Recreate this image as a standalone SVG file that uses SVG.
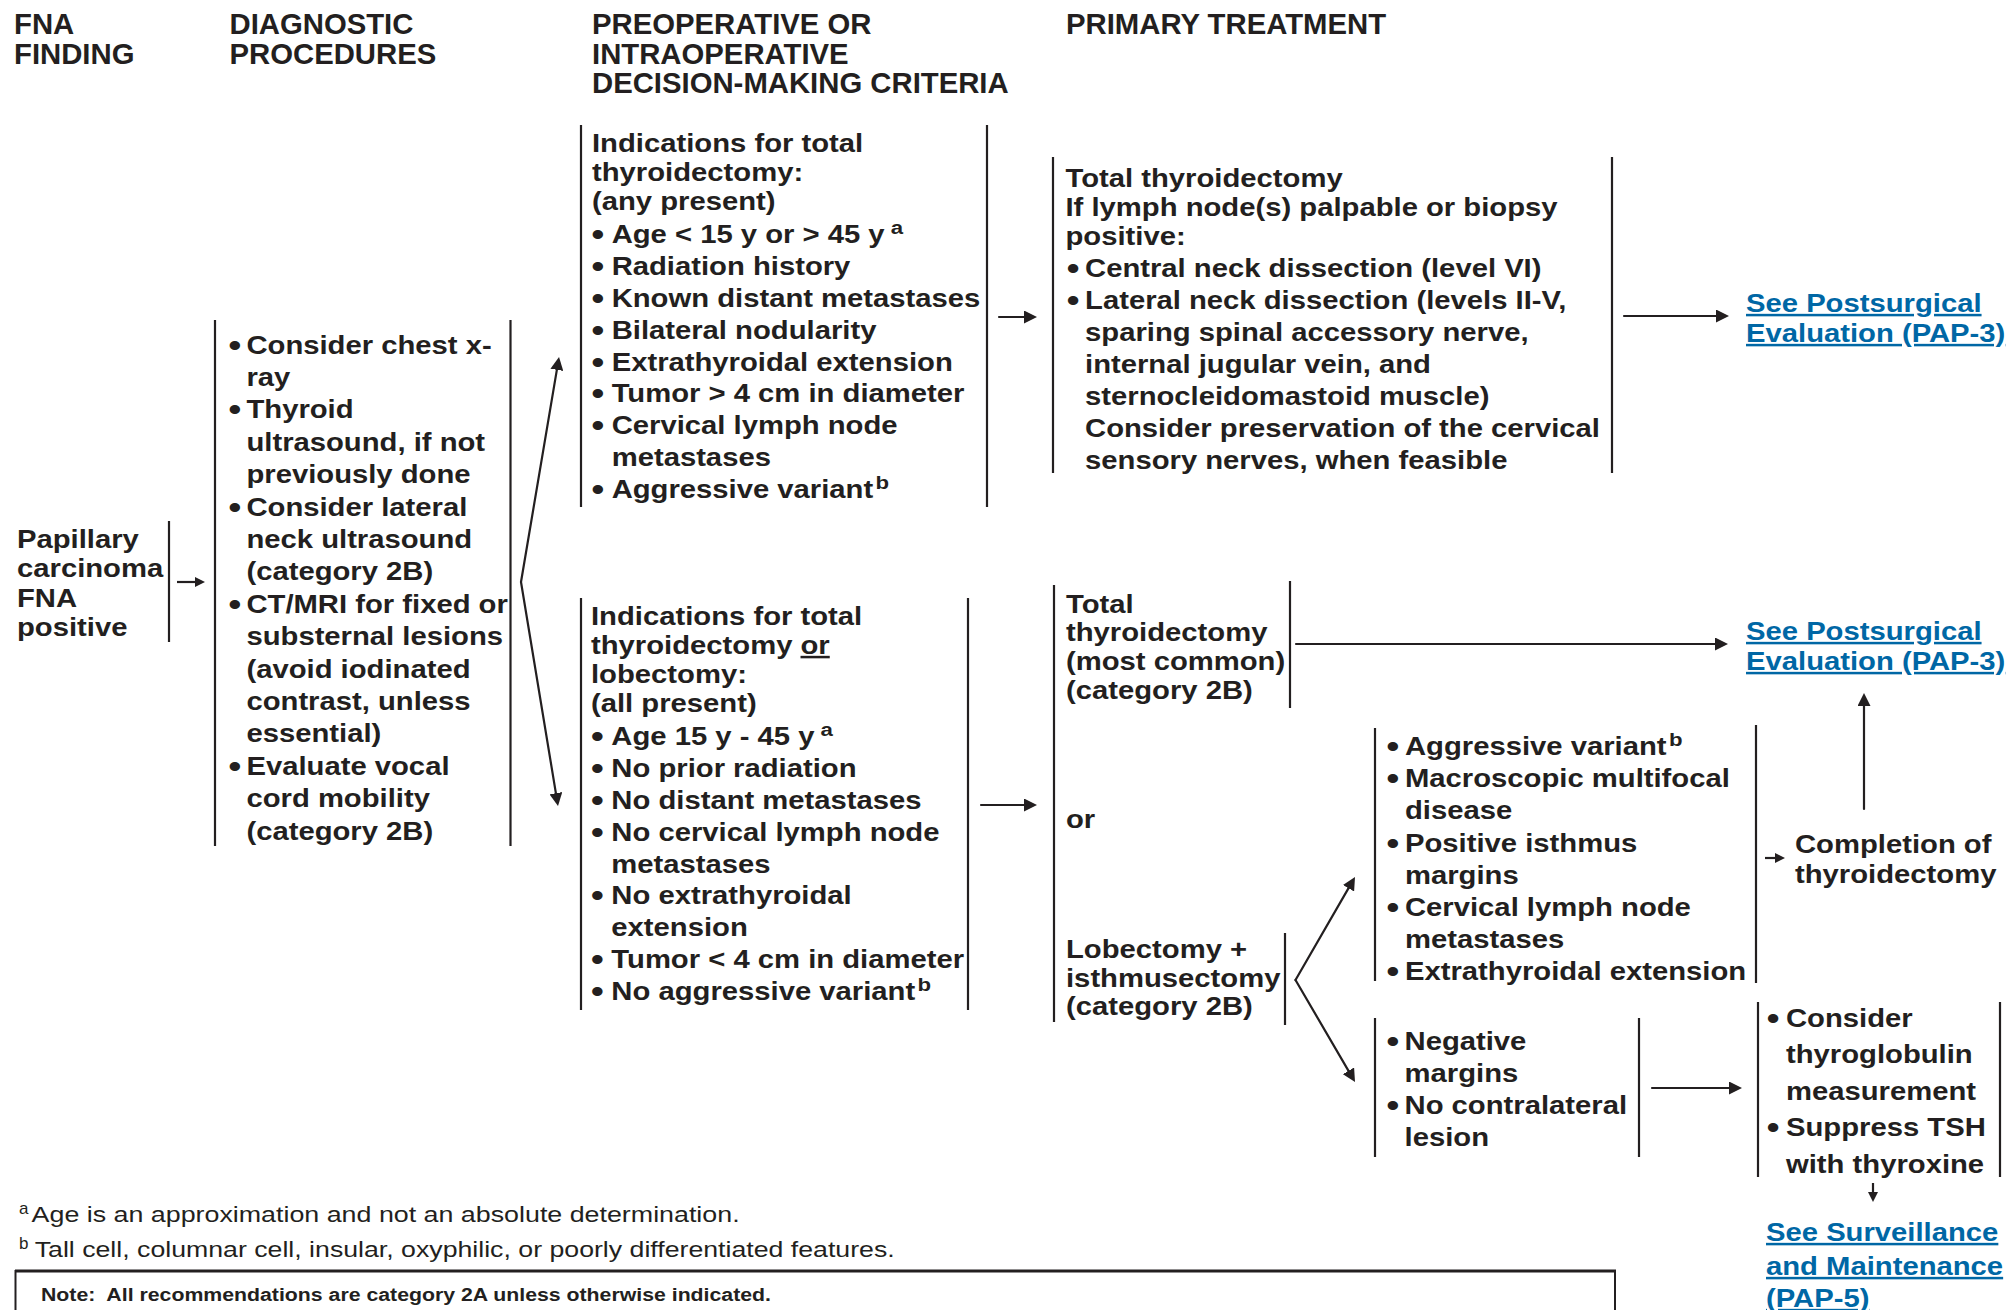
<svg xmlns="http://www.w3.org/2000/svg" width="2011" height="1310" viewBox="0 0 2011 1310">
<style>
text { font-family: "Liberation Sans", Arial, Helvetica, sans-serif; fill: #231f20; }
.h { font-weight: bold; font-size: 29.3px; }
.b { font-weight: bold; font-size: 25px; }
.bl { font-size: 31px; transform: translate(-0.5px, 2px); }
.sup { font-size: 19px; }
.lk { fill: #0067a5; text-decoration: underline; }
.fn { font-size: 22px; }
.fs { font-size: 17px; }
.nt { font-weight: bold; font-size: 18px; }
.bar { stroke: #231f20; stroke-width: 2.2; fill: none; }
.con { stroke: #231f20; stroke-width: 2.2; fill: none; stroke-linecap: round; marker-end: url(#ah); }
.cons { stroke: #231f20; stroke-width: 2.2; fill: none; marker-end: url(#ahs); }
</style>
<defs>
<marker id="ah" viewBox="0 0 13 13" refX="5" refY="6.5" markerWidth="13" markerHeight="13" orient="auto" markerUnits="userSpaceOnUse"><path d="M0,0 L13,6.5 L0,13 z" fill="#231f20"/></marker>
<marker id="ahs" viewBox="0 0 10 10" refX="4" refY="5" markerWidth="10" markerHeight="10" orient="auto" markerUnits="userSpaceOnUse"><path d="M0,0 L10,5 L0,10 z" fill="#231f20"/></marker>
</defs>
<rect width="2011" height="1310" fill="#ffffff"/>

<g id="headers">
<text class="h" x="14" y="34">FNA</text>
<text class="h" x="14" y="63.5">FINDING</text>
<text class="h" x="229.5" y="34">DIAGNOSTIC</text>
<text class="h" x="229.5" y="63.5">PROCEDURES</text>
<text class="h" x="592" y="34">PREOPERATIVE OR</text>
<text class="h" x="592" y="63.5">INTRAOPERATIVE</text>
<text class="h" x="592" y="93">DECISION-MAKING CRITERIA</text>
<text class="h" x="1066" y="34">PRIMARY TREATMENT</text>
</g>

<g id="node-papillary">
<g transform="translate(17 0) scale(1.17 1)">
<text class="b" x="0" y="548">Papillary</text>
<text class="b" x="0" y="577.5">carcinoma</text>
<text class="b" x="0" y="607">FNA</text>
<text class="b" x="0" y="636.3">positive</text>
</g>
<line class="bar" x1="169" y1="521" x2="169" y2="642"/>
</g>

<g id="node-diagnostic">
<line class="bar" x1="215" y1="320" x2="215" y2="846"/>
<line class="bar" x1="510.5" y1="320" x2="510.5" y2="846"/>
<g transform="translate(229 0) scale(1.17 1)">
<text class="b bl" x="0" y="353.6">•</text><text class="b" x="14.9" y="353.6">Consider chest x-</text>
<text class="b" x="14.9" y="386">ray</text>
<text class="b bl" x="0" y="418.4">•</text><text class="b" x="14.9" y="418.4">Thyroid</text>
<text class="b" x="14.9" y="450.8">ultrasound, if not</text>
<text class="b" x="14.9" y="483.2">previously done</text>
<text class="b bl" x="0" y="515.6">•</text><text class="b" x="14.9" y="515.6">Consider lateral</text>
<text class="b" x="14.9" y="548">neck ultrasound</text>
<text class="b" x="14.9" y="580.4">(category 2B)</text>
<text class="b bl" x="0" y="612.8">•</text><text class="b" x="14.9" y="612.8">CT/MRI for fixed or</text>
<text class="b" x="14.9" y="645.2">substernal lesions</text>
<text class="b" x="14.9" y="677.6">(avoid iodinated</text>
<text class="b" x="14.9" y="710">contrast, unless</text>
<text class="b" x="14.9" y="742.4">essential)</text>
<text class="b bl" x="0" y="774.8">•</text><text class="b" x="14.9" y="774.8">Evaluate vocal</text>
<text class="b" x="14.9" y="807.2">cord mobility</text>
<text class="b" x="14.9" y="839.6">(category 2B)</text>
</g>
</g>

<g id="node-criteria-total">
<line class="bar" x1="581" y1="125" x2="581" y2="507"/>
<line class="bar" x1="987" y1="125" x2="987" y2="507"/>
<g transform="translate(592 0) scale(1.17 1)">
<text class="b" x="0" y="151.7">Indications for total</text>
<text class="b" x="0" y="181">thyroidectomy:</text>
<text class="b" x="0" y="210.3">(any present)</text>
<text class="b bl" x="0" y="243">•</text><text class="b" x="16.8" y="243">Age &lt; 15 y or &gt; 45 y<tspan class="sup" dy="-9"> a</tspan></text>
<text class="b bl" x="0" y="274.9">•</text><text class="b" x="16.8" y="274.9">Radiation history</text>
<text class="b bl" x="0" y="306.8">•</text><text class="b" x="16.8" y="306.8">Known distant metastases</text>
<text class="b bl" x="0" y="338.7">•</text><text class="b" x="16.8" y="338.7">Bilateral nodularity</text>
<text class="b bl" x="0" y="370.6">•</text><text class="b" x="16.8" y="370.6">Extrathyroidal extension</text>
<text class="b bl" x="0" y="402.5">•</text><text class="b" x="16.8" y="402.5">Tumor &gt; 4 cm in diameter</text>
<text class="b bl" x="0" y="434.4">•</text><text class="b" x="16.8" y="434.4">Cervical lymph node</text>
<text class="b" x="16.8" y="466.3">metastases</text>
<text class="b bl" x="0" y="498.2">•</text><text class="b" x="16.8" y="498.2">Aggressive variant<tspan class="sup" dx="2" dy="-9">b</tspan></text>
</g>
</g>

<g id="node-criteria-either">
<line class="bar" x1="581" y1="598" x2="581" y2="1010"/>
<line class="bar" x1="968" y1="598" x2="968" y2="1010"/>
<g transform="translate(591 0) scale(1.17 1)">
<text class="b" x="0" y="625">Indications for total</text>
<text class="b" x="0" y="654">thyroidectomy <tspan style="text-decoration: underline">or</tspan></text>
<text class="b" x="0" y="683">lobectomy:</text>
<text class="b" x="0" y="711.7">(all present)</text>
<text class="b bl" x="0.5" y="745">•</text><text class="b" x="17.4" y="745">Age 15 y - 45 y<tspan class="sup" dy="-9"> a</tspan></text>
<text class="b bl" x="0.5" y="776.9">•</text><text class="b" x="17.4" y="776.9">No prior radiation</text>
<text class="b bl" x="0.5" y="808.8">•</text><text class="b" x="17.4" y="808.8">No distant metastases</text>
<text class="b bl" x="0.5" y="840.7">•</text><text class="b" x="17.4" y="840.7">No cervical lymph node</text>
<text class="b" x="17.4" y="872.6">metastases</text>
<text class="b bl" x="0.5" y="904.5">•</text><text class="b" x="17.4" y="904.5">No extrathyroidal</text>
<text class="b" x="17.4" y="936.4">extension</text>
<text class="b bl" x="0.5" y="968.3">•</text><text class="b" x="17.4" y="968.3">Tumor &lt; 4 cm in diameter</text>
<text class="b bl" x="0.5" y="1000.2">•</text><text class="b" x="17.4" y="1000.2">No aggressive variant<tspan class="sup" dx="2" dy="-9">b</tspan></text>
</g>
</g>

<g id="node-primary-total">
<line class="bar" x1="1053" y1="157" x2="1053" y2="473"/>
<line class="bar" x1="1612" y1="157" x2="1612" y2="473"/>
<g transform="translate(1065.5 0) scale(1.17 1)">
<text class="b" x="0" y="186.7">Total thyroidectomy</text>
<text class="b" x="0" y="215.9">If lymph node(s) palpable or biopsy</text>
<text class="b" x="0" y="245.1">positive:</text>
<text class="b bl" x="1.5" y="276.7">•</text><text class="b" x="16.7" y="276.7">Central neck dissection (level VI)</text>
<text class="b bl" x="1.5" y="308.7">•</text><text class="b" x="16.7" y="308.7">Lateral neck dissection (levels II-V,</text>
<text class="b" x="16.7" y="340.7">sparing spinal accessory nerve,</text>
<text class="b" x="16.7" y="372.7">internal jugular vein, and</text>
<text class="b" x="16.7" y="404.7">sternocleidomastoid muscle)</text>
<text class="b" x="16.7" y="436.7">Consider preservation of the cervical</text>
<text class="b" x="16.7" y="468.7">sensory nerves, when feasible</text>
</g>
</g>

<g id="node-link-postsurgical-1">
<g transform="translate(1746 0) scale(1.17 1)">
<text class="b lk" x="0" y="312">See Postsurgical</text>
<text class="b lk" x="0" y="342">Evaluation (PAP-3)</text>
</g>
</g>

<g id="node-primary-options">
<line class="bar" x1="1054" y1="585" x2="1054" y2="1022"/>
<g transform="translate(1066 0) scale(1.17 1)">
<text class="b" x="0" y="612.7">Total</text>
<text class="b" x="0" y="641.5">thyroidectomy</text>
<text class="b" x="0" y="670.3">(most common)</text>
<text class="b" x="0" y="699">(category 2B)</text>
<text class="b" x="0" y="828">or</text>
<text class="b" x="0" y="958">Lobectomy +</text>
<text class="b" x="0" y="986.7">isthmusectomy</text>
<text class="b" x="0" y="1015.4">(category 2B)</text>
</g>
<line class="bar" x1="1290" y1="581" x2="1290" y2="708"/>
<line class="bar" x1="1285" y1="933" x2="1285" y2="1025"/>
</g>

<g id="node-link-postsurgical-2">
<g transform="translate(1746 0) scale(1.17 1)">
<text class="b lk" x="0" y="640">See Postsurgical</text>
<text class="b lk" x="0" y="670">Evaluation (PAP-3)</text>
</g>
</g>

<g id="node-completion-criteria">
<line class="bar" x1="1375" y1="728" x2="1375" y2="981"/>
<line class="bar" x1="1756" y1="725" x2="1756" y2="983"/>
<g transform="translate(1387 0) scale(1.17 1)">
<text class="b bl" x="0" y="755">•</text><text class="b" x="15.4" y="755">Aggressive variant<tspan class="sup" dx="2" dy="-9">b</tspan></text>
<text class="b bl" x="0" y="787.2">•</text><text class="b" x="15.4" y="787.2">Macroscopic multifocal</text>
<text class="b" x="15.4" y="819.4">disease</text>
<text class="b bl" x="0" y="851.6">•</text><text class="b" x="15.4" y="851.6">Positive isthmus</text>
<text class="b" x="15.4" y="883.8">margins</text>
<text class="b bl" x="0" y="916">•</text><text class="b" x="15.4" y="916">Cervical lymph node</text>
<text class="b" x="15.4" y="948.2">metastases</text>
<text class="b bl" x="0" y="980.4">•</text><text class="b" x="15.4" y="980.4">Extrathyroidal extension</text>
</g>
</g>

<g id="node-completion">
<g transform="translate(1795 0) scale(1.17 1)">
<text class="b" x="0" y="853">Completion of</text>
<text class="b" x="0" y="883">thyroidectomy</text>
</g>
</g>

<g id="node-negative">
<line class="bar" x1="1375" y1="1018" x2="1375" y2="1157"/>
<line class="bar" x1="1639" y1="1018" x2="1639" y2="1157"/>
<g transform="translate(1387 0) scale(1.17 1)">
<text class="b bl" x="0" y="1050">•</text><text class="b" x="15" y="1050">Negative</text>
<text class="b" x="15" y="1082">margins</text>
<text class="b bl" x="0" y="1114.3">•</text><text class="b" x="15" y="1114.3">No contralateral</text>
<text class="b" x="15" y="1146.5">lesion</text>
</g>
</g>

<g id="node-followup">
<line class="bar" x1="1758" y1="1002" x2="1758" y2="1177"/>
<line class="bar" x1="2000" y1="1002" x2="2000" y2="1177"/>
<g transform="translate(1767.4 0) scale(1.17 1)">
<text class="b bl" x="0" y="1027">•</text><text class="b" x="15.9" y="1027">Consider</text>
<text class="b" x="15.9" y="1063.4">thyroglobulin</text>
<text class="b" x="15.9" y="1099.8">measurement</text>
<text class="b bl" x="0" y="1136.2">•</text><text class="b" x="15.9" y="1136.2">Suppress TSH</text>
<text class="b" x="15.9" y="1172.6">with thyroxine</text>
</g>
</g>

<g id="node-link-surveillance">
<g transform="translate(1766 0) scale(1.17 1)">
<text class="b lk" x="0" y="1241">See Surveillance</text>
<text class="b lk" x="0" y="1275">and Maintenance</text>
<text class="b lk" x="0" y="1307">(PAP-5)</text>
</g>
</g>

<g id="connectors">
<line class="cons" x1="177" y1="582" x2="199" y2="582"/>
<line class="con" x1="521" y1="582" x2="557.7" y2="364.9"/>
<line class="con" x1="521" y1="582" x2="556.7" y2="798.1"/>
<line class="con" x1="999" y1="317" x2="1029" y2="317"/>
<line class="con" x1="1624" y1="316" x2="1721" y2="316"/>
<line class="con" x1="981" y1="805" x2="1029" y2="805"/>
<line class="con" x1="1296" y1="644" x2="1720" y2="644"/>
<line class="con" x1="1864" y1="809" x2="1864" y2="701"/>
<line class="con" x1="1295.5" y1="980" x2="1351" y2="883.9"/>
<line class="con" x1="1295.5" y1="980" x2="1351" y2="1075.1"/>
<line class="cons" x1="1765" y1="858" x2="1779" y2="858"/>
<line class="con" x1="1652" y1="1088" x2="1734" y2="1088"/>
<line class="cons" x1="1873" y1="1183" x2="1873" y2="1196"/>
</g>

<g id="footnotes">
<text class="fs" x="19" y="1214">a</text>
<text class="fn" x="31.6" y="1221.7" textLength="708" lengthAdjust="spacingAndGlyphs">Age is an approximation and not an absolute determination.</text>
<text class="fs" x="19" y="1249">b</text>
<text class="fn" x="34.7" y="1256.7" textLength="860" lengthAdjust="spacingAndGlyphs">Tall cell, columnar cell, insular, oxyphilic, or poorly differentiated features.</text>
</g>

<g id="note">
<line x1="15" y1="1271" x2="1616" y2="1271" stroke="#231f20" stroke-width="3"/>
<line x1="15.5" y1="1270" x2="15.5" y2="1312" stroke="#231f20" stroke-width="2"/>
<line x1="1615" y1="1270" x2="1615" y2="1312" stroke="#231f20" stroke-width="2"/>
<text class="nt" x="41" y="1300.7" textLength="730" lengthAdjust="spacingAndGlyphs">Note:&#160; All recommendations are category 2A unless otherwise indicated.</text>
</g>
</svg>
